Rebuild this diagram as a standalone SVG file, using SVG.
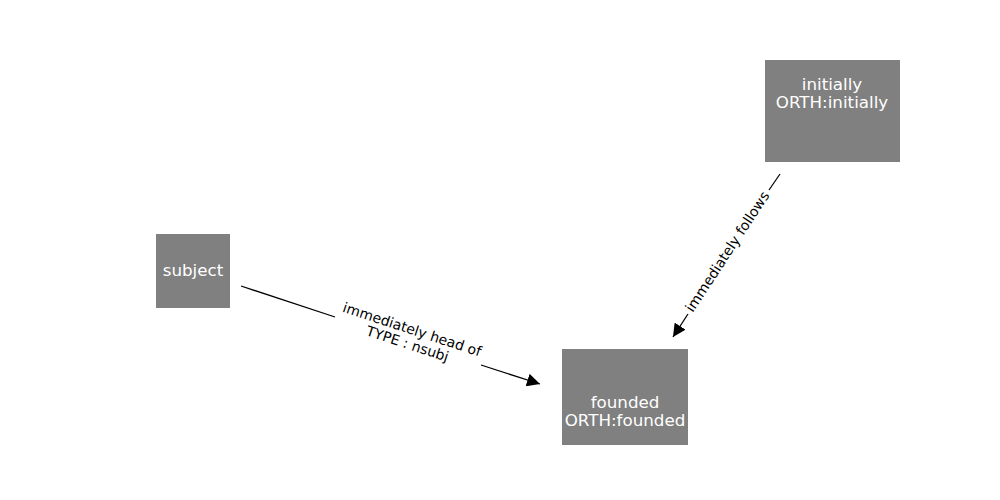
<svg xmlns="http://www.w3.org/2000/svg" width="1000" height="500" viewBox="0 0 1000 500">
<style>
.node rect{fill:#808080;}
.node text{fill:#ffffff;font-family:"DejaVu Sans",sans-serif;font-size:16.7px;text-anchor:middle;}
.edge line{stroke:#000;stroke-width:1.3;}
.lbl{fill:#000;font-family:"DejaVu Sans",sans-serif;font-size:14px;text-anchor:middle;}
</style>
<defs>
<marker id="arr" viewBox="0 0 10 10" refX="10" refY="5" markerWidth="13" markerHeight="13" markerUnits="userSpaceOnUse" orient="auto">
<path d="M0,0 L10,5 L0,10 z" fill="#000"/>
</marker>
</defs>
<rect width="1000" height="500" fill="#fff"/>
<g id="connectors">
<g class="edge" id="e1">
<line x1="241" y1="286" x2="335" y2="317"/>
<line x1="481" y1="365" x2="540" y2="384" marker-end="url(#arr)"/>
<text class="lbl" transform="translate(410,336) rotate(18.1)"><tspan x="0" y="-2">immediately head of</tspan><tspan x="0" y="13">TYPE : nsubj</tspan></text>
</g>
<g class="edge" id="e2">
<line x1="780" y1="174" x2="769" y2="190"/>
<line x1="688" y1="314" x2="673" y2="337" marker-end="url(#arr)"/>
<text class="lbl" transform="translate(728,252) rotate(-56.7)" y="4">immediately follows</text>
</g>
</g>
<g class="node" id="subject">
<rect x="156" y="234" width="74" height="74"/>
<text x="193" y="276">subject</text>
</g>
<g class="node" id="initially">
<rect x="765" y="60" width="135" height="102"/>
<text x="832" y="90">initially</text>
<text x="832" y="108">ORTH:initially</text>
</g>
<g class="node" id="founded">
<rect x="562" y="349" width="126" height="96"/>
<text x="625" y="408">founded</text>
<text x="625" y="426">ORTH:founded</text>
</g>
</svg>
